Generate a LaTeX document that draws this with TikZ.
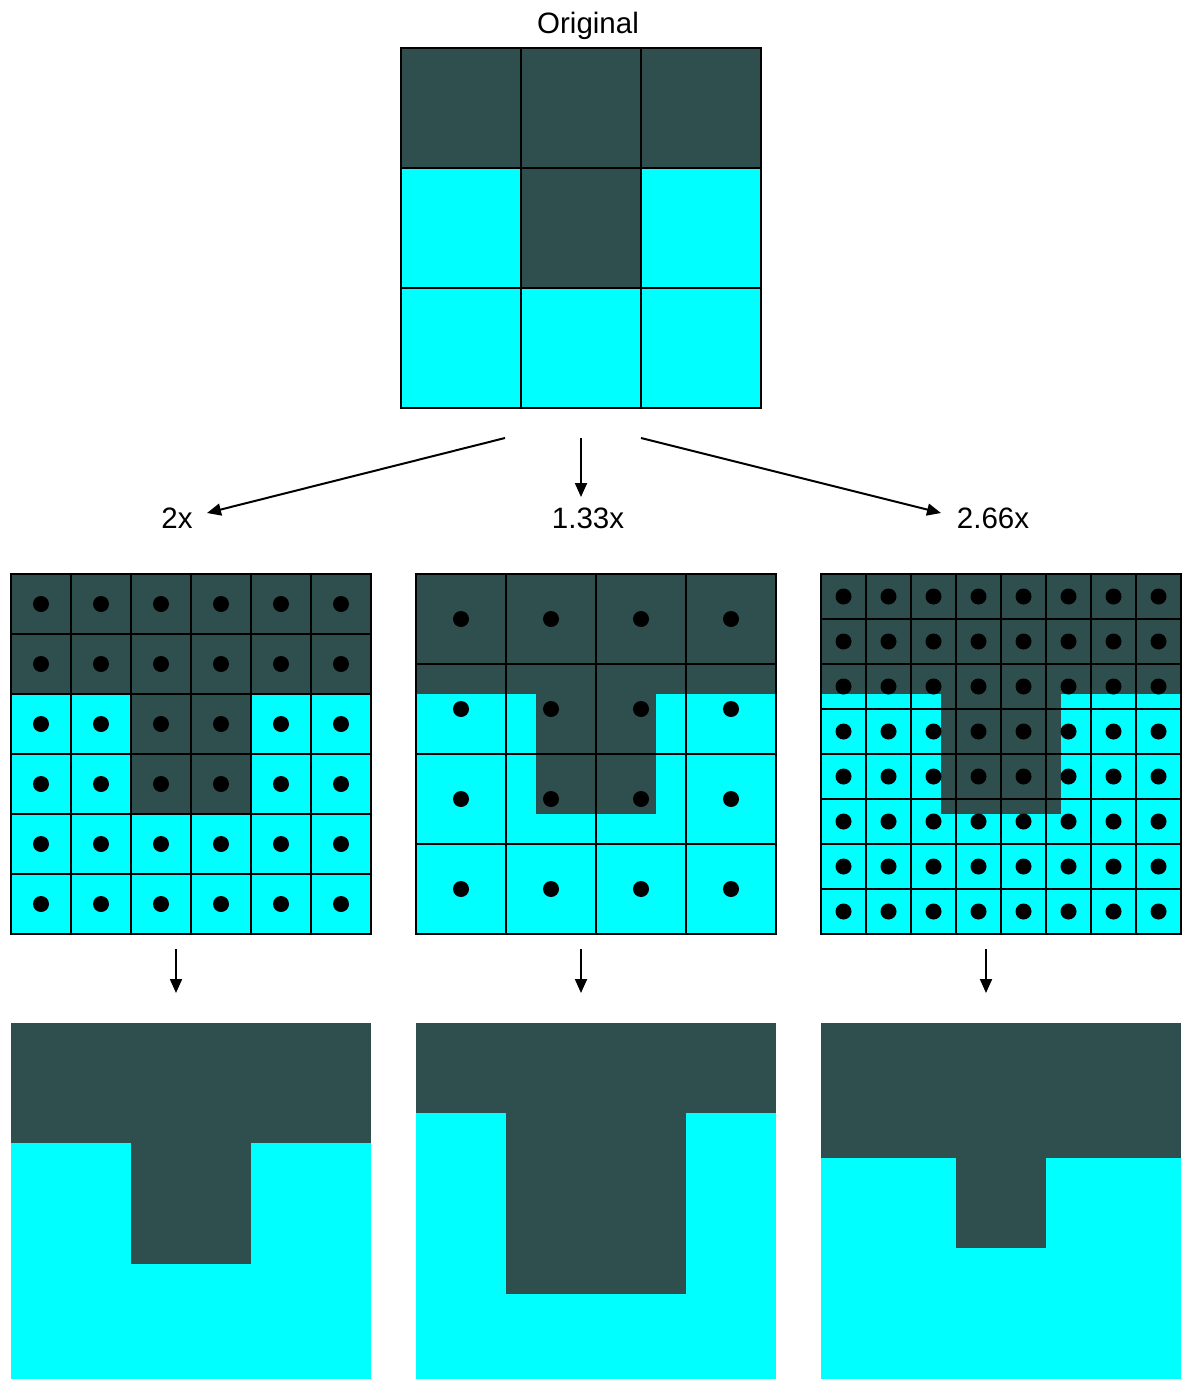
\documentclass[tikz,border=0pt]{standalone}
\usepackage{fontspec}
\setmainfont{Liberation Sans}
\usetikzlibrary{arrows.meta}
\definecolor{slate}{HTML}{2F4F4F}
\definecolor{aqua}{HTML}{00FFFF}

% T-shaped 3x3 pattern, 360 units wide, top-left corner at (#1,#2)
\newcommand\drawTpattern[2]{%
  \fill[aqua] (#1,#2) rectangle ++(360,360);
  \fill[slate] (#1,#2) rectangle ++(360,120);
  \fill[slate] ({#1+120},{#2+120}) rectangle ++(120,120);
}
% n x n cell lines of size #4 over a 360 square at (#1,#2)
\newcommand\drawCells[4]{%
  \foreach \k in {0,...,#3}{
    \draw[gridline] ({#1+\k*#4},#2) -- ++(0,360);
    \draw[gridline] (#1,{#2+\k*#4}) -- ++(360,0);
  }
}
% sample points at the cell centres
\newcommand\drawSamples[4]{%
  \pgfmathtruncatemacro\lastidx{#3-1}
  \foreach \i in {0,...,\lastidx}{
    \foreach \j in {0,...,\lastidx}{
      \fill[black] ({#1+(\i+0.5)*#4},{#2+(\j+0.5)*#4}) circle (8pt);
    }
  }
}

\begin{document}
\begin{tikzpicture}[x=1pt,y=-1pt,
  arr/.style={line width=2pt,-{Triangle[length=14pt,width=12pt]}},
  lbl/.style={font=\fontsize{29.5}{35}\selectfont, inner sep=0pt, anchor=base},
  gridline/.style={line width=1.3pt, draw=black, line cap=rect}]
\useasboundingbox[fill=white] (0,0) rectangle (1191,1379);

% original image
\node[lbl] (title) at (588,33) {Original};
\drawTpattern{401}{48}
\drawCells{401}{48}{3}{120}

% scale labels
\node[lbl] (l2) at (177,528) {2x};
\node[lbl] (l133) at (588,528) {1.33x};
\node[lbl] (l266) at (993,528) {2.66x};

% arrows from the original to each scale
\coordinate (s2) at (505,438);
\coordinate (e2) at (207,513);
\coordinate (s133) at (581,438);
\coordinate (e133) at (581,497);
\coordinate (s266) at (641,438);
\coordinate (e266) at (941,513);
\draw[arr] (s2) -- (e2);
\draw[arr] (s133) -- (e133);
\draw[arr] (s266) -- (e266);

% sampling grids
\drawTpattern{11}{574}
\drawCells{11}{574}{6}{60}
\drawSamples{11}{574}{6}{60}

\drawTpattern{416}{574}
\drawCells{416}{574}{4}{90}
\drawSamples{416}{574}{4}{90}

\drawTpattern{821}{574}
\drawCells{821}{574}{8}{45}
\drawSamples{821}{574}{8}{45}

% arrows down to the results
\coordinate (d1s) at (176,949);
\coordinate (d1e) at (176,993);
\coordinate (d2s) at (581,949);
\coordinate (d2e) at (581,993);
\coordinate (d3s) at (986,949);
\coordinate (d3e) at (986,993);
\draw[arr] (d1s) -- (d1e);
\draw[arr] (d2s) -- (d2e);
\draw[arr] (d3s) -- (d3e);

% nearest-neighbour results
\fill[aqua] (11,1023) rectangle (371,1379);
\fill[slate] (11,1023) rectangle (371,1143);
\fill[slate] (131,1143) rectangle (251,1264);

\fill[aqua] (416,1023) rectangle (776,1379);
\fill[slate] (416,1023) rectangle (776,1113);
\fill[slate] (506,1113) rectangle (686,1294);

\fill[aqua] (821,1023) rectangle (1181,1379);
\fill[slate] (821,1023) rectangle (1181,1158);
\fill[slate] (956,1158) rectangle (1046,1248);
\end{tikzpicture}
\end{document}
